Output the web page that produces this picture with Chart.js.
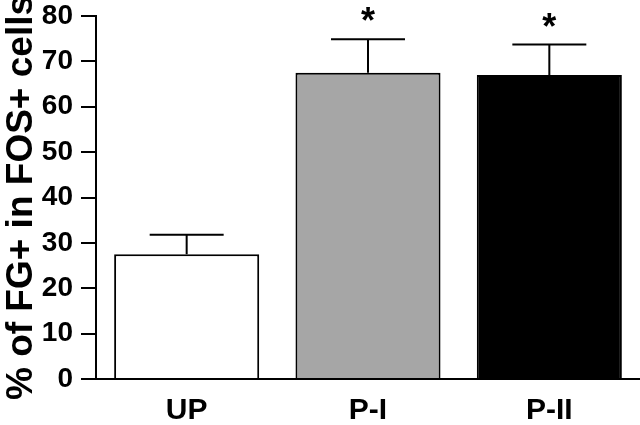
<!DOCTYPE html>
<html>
<head>
<meta charset="utf-8">
<script src="https://cdn.jsdelivr.net/npm/chart.js@4.4.1/dist/chart.umd.min.js"></script>
<style>
  html, body { margin: 0; padding: 0; background: #fff; }
  #wrap { width: 640px; height: 425px; }
</style>
</head>
<body>
<div id="wrap"><canvas id="chart" width="640" height="425"></canvas></div>
<script>
// dados
const groups = ['UP', 'P-I', 'P-II'];
const means = [27.5, 67.5, 67.0];
const sem = [4.3, 7.4, 6.7];
const significant = [false, true, true];
const barColors = ['#ffffff', '#a6a6a6', '#000000'];
const yMin = 0, yMax = 80, yStep = 10;

const fontFamily = '"Liberation Sans", Arial, sans-serif';

// barras de erro (só para cima) e asteriscos
const errorBars = {
  id: 'errorBars',
  afterDatasetsDraw(chart) {
    const ctx = chart.ctx;
    const meta = chart.getDatasetMeta(0);
    const y = chart.scales.y;
    ctx.save();
    ctx.strokeStyle = '#000';
    ctx.lineWidth = 2;
    meta.data.forEach(function (bar, i) {
      const top = y.getPixelForValue(means[i] + sem[i]);
      const base = y.getPixelForValue(means[i]);
      const half = bar.width * 0.255;
      ctx.beginPath();
      ctx.moveTo(bar.x, base);
      ctx.lineTo(bar.x, top);
      ctx.moveTo(bar.x - half, top);
      ctx.lineTo(bar.x + half, top);
      ctx.stroke();
      if (significant[i]) {
        ctx.fillStyle = '#000';
        ctx.font = 'bold 36px ' + fontFamily;
        ctx.textAlign = 'center';
        ctx.textBaseline = 'middle';
        ctx.fillText('*', bar.x, top - 16);
      }
    });
    ctx.restore();
  }
};

new Chart(document.getElementById('chart'), {
  type: 'bar',
  data: {
    labels: groups,
    datasets: [{
      data: means,
      backgroundColor: barColors,
      borderColor: '#000',
      borderWidth: 2,
      categoryPercentage: 0.8,
      barPercentage: 1.0
    }]
  },
  options: {
    responsive: false,
    animation: false,
    layout: { padding: { top: 16, right: 0, left: 0, bottom: 0 } },
    plugins: { legend: { display: false }, tooltip: { enabled: false } },
    scales: {
      x: {
        grid: { display: false, drawTicks: false },
        border: { color: '#000', width: 2 },
        ticks: {
          color: '#000',
          padding: 14,
          font: { family: fontFamily, size: 30, weight: 'bold' }
        },
        afterFit(scale) { scale.height = 46; }
      },
      y: {
        min: yMin,
        max: yMax,
        grid: { drawOnChartArea: false, drawTicks: true, tickLength: 15, color: '#000', lineWidth: 2 },
        border: { color: '#000', width: 2 },
        ticks: {
          stepSize: yStep,
          color: '#000',
          padding: 8,
          font: { family: fontFamily, size: 28, weight: 'bold' }
        },
        title: {
          display: true,
          text: '% of FG+ in FOS+ cells',
          color: '#000',
          padding: { top: 0, bottom: 0 },
          font: { family: fontFamily, size: 37, weight: 'bold' }
        },
        afterFit(scale) {
          scale.width = 96;
          // deixa o rótulo "80" sair do topo como no original
          scale.paddingTop = 0;
          scale.paddingBottom = 0;
        }
      }
    }
  },
  plugins: [errorBars]
});
</script>
</body>
</html>
